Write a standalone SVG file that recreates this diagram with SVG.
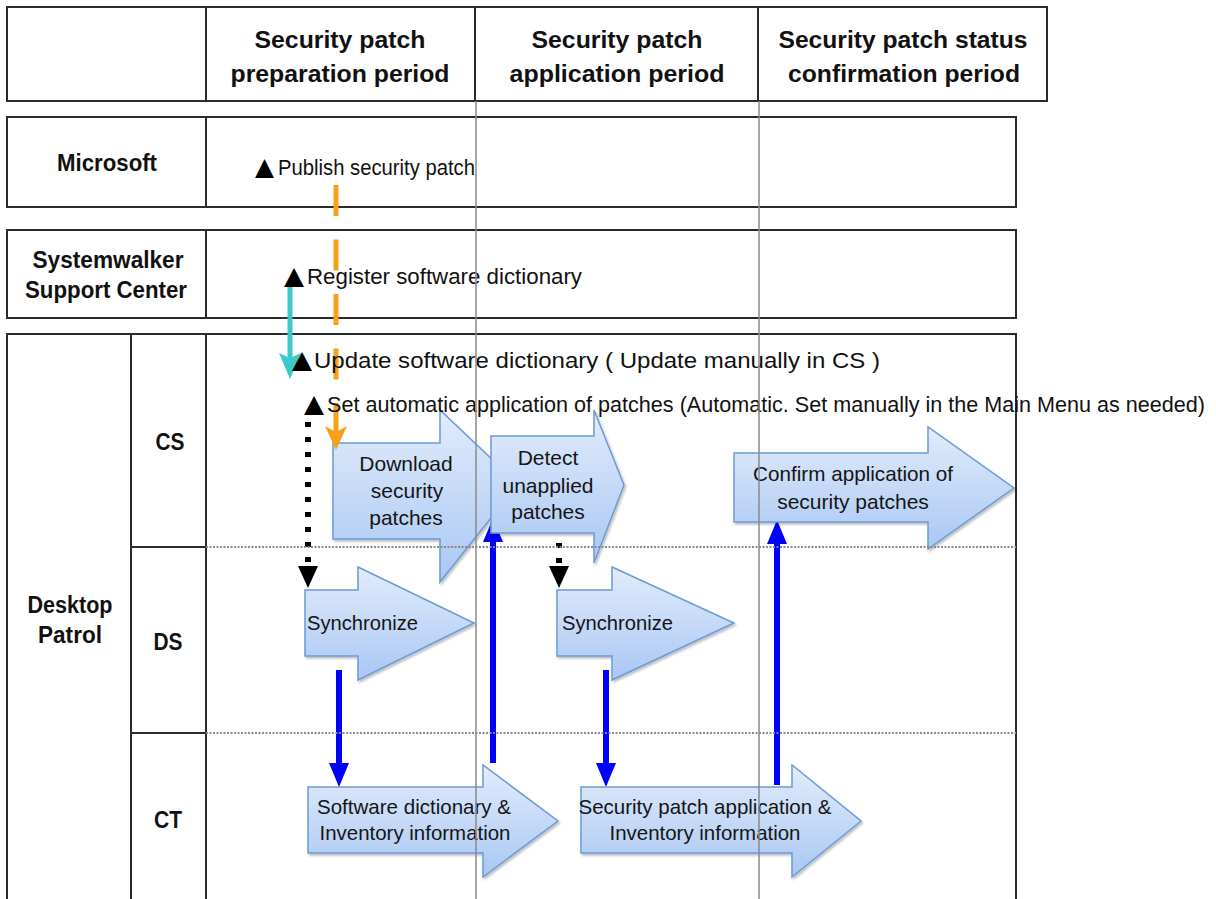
<svg xmlns="http://www.w3.org/2000/svg" width="1216" height="899" viewBox="0 0 1216 899">
<style>
  .frame{fill:none;stroke:#2b2b2b;stroke-width:2}
  .div{stroke:#2b2b2b;stroke-width:2}
  .grid{stroke:#8a8a8a;stroke-width:1.5}
  .dot{stroke:#8a8a8a;stroke-width:2;stroke-dasharray:2 1.5}
  .hdr{font-family:"Liberation Sans",Arial,sans-serif;font-weight:bold;font-size:23px;fill:#111;text-anchor:middle}
  .lane{font-family:"Liberation Sans",Arial,sans-serif;font-weight:bold;font-size:23px;fill:#111;text-anchor:middle}
  .ev{font-family:"Liberation Sans",Arial,sans-serif;font-size:22px;fill:#111}
  .tri{font-family:"DejaVu Sans",sans-serif;font-size:25px;fill:#000}
  .blk{fill:url(#bg);stroke:#6b9bd6;stroke-width:1.5;filter:url(#sh)}
  .bt{font-family:"Liberation Sans",Arial,sans-serif;font-size:21px;fill:#151515;text-anchor:middle}
  .bts{font-family:"Liberation Sans",Arial,sans-serif;font-size:20px;fill:#151515}
</style>
<defs>
  <linearGradient id="bg" x1="0" y1="0" x2="0" y2="1">
    <stop offset="0" stop-color="#e2ecfb"/>
    <stop offset="1" stop-color="#a9c7f3"/>
  </linearGradient>
  <filter id="sh" x="-10%" y="-10%" width="130%" height="130%">
    <feDropShadow dx="1.5" dy="2" stdDeviation="1.2" flood-color="#000" flood-opacity="0.25"/>
  </filter>
  <marker id="mOr" viewBox="0 0 24 24" refX="10" refY="12" markerWidth="24" markerHeight="24" markerUnits="userSpaceOnUse" orient="auto">
    <path d="M0,1 L24,12 L0,23 L6,12 Z" fill="#f7a11a"/>
  </marker>
  <marker id="mCy" viewBox="0 0 26 24" refX="10" refY="12" markerWidth="26" markerHeight="24" markerUnits="userSpaceOnUse" orient="auto">
    <path d="M0,1 L26,12 L0,23 L5,12 Z" fill="#3cc9c9"/>
  </marker>
  <marker id="mBk" viewBox="0 0 22 22" refX="8" refY="11" markerWidth="22" markerHeight="22" markerUnits="userSpaceOnUse" orient="auto">
    <path d="M0,1 L22,11 L0,21 Z" fill="#000"/>
  </marker>
  <marker id="mBl" viewBox="0 0 24 22" refX="8" refY="11" markerWidth="24" markerHeight="22" markerUnits="userSpaceOnUse" orient="auto">
    <path d="M0,1 L24,11 L0,21 Z" fill="#0000ff"/>
  </marker>
</defs>

<rect width="1216" height="899" fill="#ffffff"/>

<!-- header -->
<g id="header">
  <rect class="frame" x="7" y="7" width="1040" height="94"/>
  <line class="div" x1="206" y1="7" x2="206" y2="101"/>
  <line class="div" x1="475" y1="7" x2="475" y2="101"/>
  <line class="div" x1="758" y1="7" x2="758" y2="101"/>
  <text class="hdr" x="340" y="48" textLength="171" lengthAdjust="spacingAndGlyphs">Security patch</text>
  <text class="hdr" x="340" y="82" textLength="219" lengthAdjust="spacingAndGlyphs">preparation period</text>
  <text class="hdr" x="617" y="48" textLength="171" lengthAdjust="spacingAndGlyphs">Security patch</text>
  <text class="hdr" x="617" y="82" textLength="215" lengthAdjust="spacingAndGlyphs">application period</text>
  <text class="hdr" x="903" y="48" textLength="249" lengthAdjust="spacingAndGlyphs">Security patch status</text>
  <text class="hdr" x="904" y="82" textLength="232" lengthAdjust="spacingAndGlyphs">confirmation period</text>
</g>

<g id="lane-microsoft">
  <rect class="frame" x="7" y="117" width="1009" height="90"/>
  <line class="div" x1="206" y1="117" x2="206" y2="207"/>
  <text class="lane" x="107" y="171" textLength="100" lengthAdjust="spacingAndGlyphs">Microsoft</text>
</g>

<g id="lane-systemwalker">
  <rect class="frame" x="7" y="230" width="1009" height="88"/>
  <line class="div" x1="206" y1="230" x2="206" y2="318"/>
  <text class="lane" x="108" y="268" textLength="151" lengthAdjust="spacingAndGlyphs">Systemwalker</text>
  <text class="lane" x="106" y="298" textLength="162" lengthAdjust="spacingAndGlyphs">Support Center</text>
</g>

<g id="lane-desktop-patrol">
  <rect class="frame" x="7" y="334" width="1009" height="580"/>
  <line class="div" x1="131" y1="334" x2="131" y2="899"/>
  <line class="div" x1="206" y1="334" x2="206" y2="899"/>
  <line class="div" x1="131" y1="547" x2="206" y2="547"/>
  <line class="div" x1="131" y1="733" x2="206" y2="733"/>
  <text class="lane" x="70" y="613" textLength="85" lengthAdjust="spacingAndGlyphs">Desktop</text>
  <text class="lane" x="70" y="643" textLength="64" lengthAdjust="spacingAndGlyphs">Patrol</text>
  <text class="lane" x="170" y="450" textLength="29" lengthAdjust="spacingAndGlyphs">CS</text>
  <text class="lane" x="168" y="650" textLength="29" lengthAdjust="spacingAndGlyphs">DS</text>
  <text class="lane" x="168" y="828" textLength="28" lengthAdjust="spacingAndGlyphs">CT</text>
</g>

<g id="node-download">
  <path class="blk" d="M333,443 H440 V410 L518,484 L440,582 V539 H333 Z"/>
  <text class="bt" x="406" y="471">Download</text>
  <text class="bt" x="407" y="498">security</text>
  <text class="bt" x="406" y="525">patches</text>
</g>

<g id="connectors">
  <line x1="336" y1="185" x2="336" y2="436" stroke="#f7a11a" stroke-width="5" stroke-dasharray="31 23.5" marker-end="url(#mOr)"/>
  <line x1="290" y1="283" x2="290" y2="363" stroke="#3cc9c9" stroke-width="5" marker-end="url(#mCy)"/>
  <line x1="308" y1="422" x2="308" y2="574" stroke="#000" stroke-width="6" stroke-dasharray="5 10" marker-end="url(#mBk)"/>
  <line x1="559" y1="543" x2="559" y2="574" stroke="#000" stroke-width="6" stroke-dasharray="5 10" marker-end="url(#mBk)"/>
  <line x1="339" y1="670" x2="339" y2="771" stroke="#0000ff" stroke-width="6" marker-end="url(#mBl)"/>
  <line x1="493" y1="763" x2="493" y2="534" stroke="#0000ff" stroke-width="6" marker-end="url(#mBl)"/>
  <line x1="606" y1="670" x2="606" y2="771" stroke="#0000ff" stroke-width="6" marker-end="url(#mBl)"/>
  <line x1="777" y1="785" x2="777" y2="536" stroke="#0000ff" stroke-width="6" marker-end="url(#mBl)"/>
</g>

<g id="node-detect">
  <path class="blk" d="M491,436 H594 V410 L624,485 L594,563 V533 H491 Z"/>
  <text class="bt" x="548" y="465">Detect</text>
  <text class="bt" x="548" y="493">unapplied</text>
  <text class="bt" x="548" y="519">patches</text>
</g>

<g id="node-confirm">
  <path class="blk" d="M734,453 H928 V427 L1014,488 L928,549 V522 H734 Z"/>
  <text class="bt" x="853" y="481" font-size="20" textLength="200" lengthAdjust="spacingAndGlyphs">Confirm application of</text>
  <text class="bt" x="853" y="509" font-size="20">security patches</text>
</g>

<g id="node-sync1">
  <path class="blk" d="M305,590 H358 V567 L474,623 L358,680 V656 H305 Z"/>
  <text class="bts" x="307" y="630" textLength="111" lengthAdjust="spacingAndGlyphs">Synchronize</text>
</g>

<g id="node-sync2">
  <path class="blk" d="M557,590 H612 V567 L734,623 L612,680 V656 H557 Z"/>
  <text class="bts" x="562" y="630" textLength="111" lengthAdjust="spacingAndGlyphs">Synchronize</text>
</g>

<g id="node-swdict">
  <path class="blk" d="M308,787 H483 V765 L558,821 L483,877 V853 H308 Z"/>
  <text class="bt" x="414" y="814" font-size="20" textLength="194" lengthAdjust="spacingAndGlyphs">Software dictionary &amp;</text>
  <text class="bt" x="415" y="840" font-size="20" textLength="191" lengthAdjust="spacingAndGlyphs">Inventory information</text>
</g>

<g id="node-secapp">
  <path class="blk" d="M581,787 H792 V765 L861,821 L792,877 V853 H581 Z"/>
  <text class="bt" x="705" y="814" font-size="20" textLength="253" lengthAdjust="spacingAndGlyphs">Security patch application &amp;</text>
  <text class="bt" x="705" y="840" font-size="20" textLength="191" lengthAdjust="spacingAndGlyphs">Inventory information</text>
</g>

<g id="events">
  <text class="tri" x="255" y="175" textLength="19" lengthAdjust="spacingAndGlyphs">▲</text>
  <text class="ev" x="278" y="175" textLength="197" lengthAdjust="spacingAndGlyphs">Publish security patch</text>
  <text class="tri" x="284" y="284" textLength="20" lengthAdjust="spacingAndGlyphs">▲</text>
  <text class="ev" x="307" y="284" textLength="275" lengthAdjust="spacingAndGlyphs">Register software dictionary</text>
  <text class="tri" x="292" y="368" textLength="20" lengthAdjust="spacingAndGlyphs">▲</text>
  <text class="ev" x="314" y="368" textLength="566" lengthAdjust="spacingAndGlyphs">Update software dictionary ( Update manually in CS )</text>
  <text class="tri" x="304" y="412" textLength="20" lengthAdjust="spacingAndGlyphs">▲</text>
  <text class="ev" x="327" y="412" textLength="878" lengthAdjust="spacingAndGlyphs">Set automatic application of patches (Automatic. Set manually in the Main Menu as needed)</text>
</g>

<g id="gridlines">
  <line class="grid" x1="476" y1="101" x2="476" y2="899"/>
  <line class="grid" x1="759" y1="101" x2="759" y2="899"/>
  <line class="dot" x1="206" y1="547" x2="1016" y2="547"/>
  <line class="dot" x1="206" y1="733" x2="1016" y2="733"/>
</g>
</svg>
